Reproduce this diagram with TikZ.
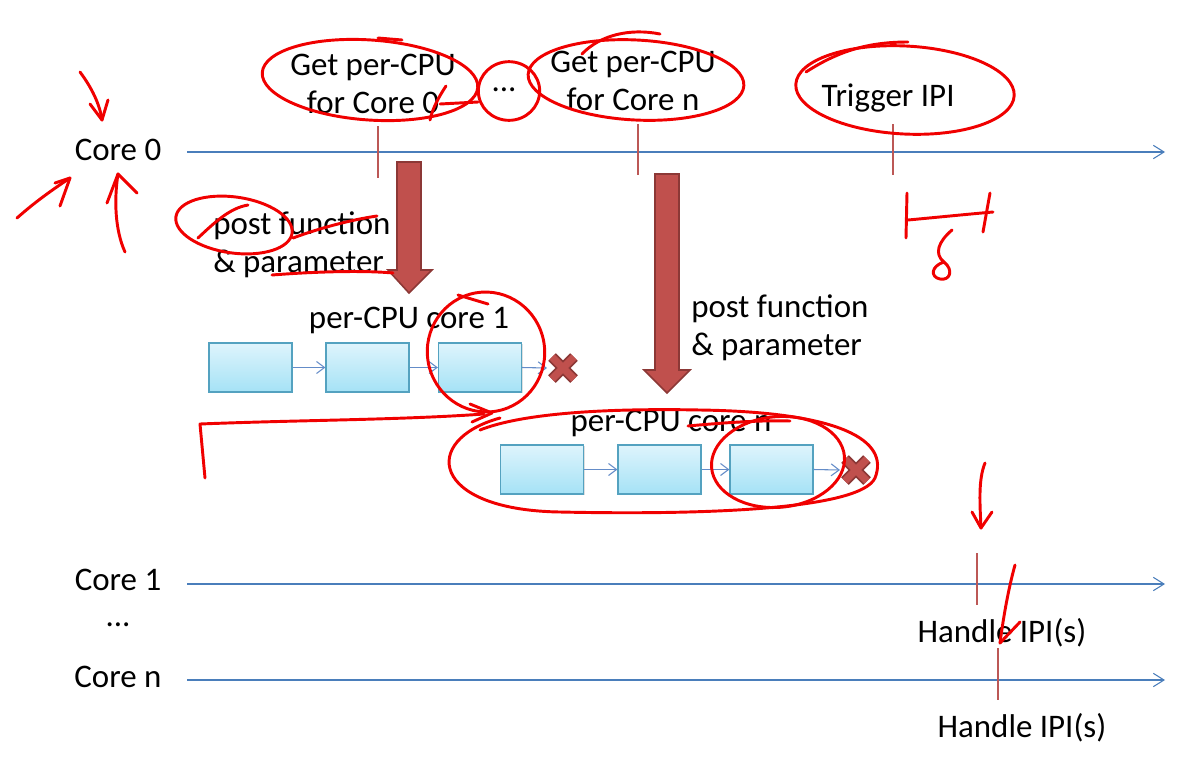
\documentclass[tikz,border=0pt]{standalone}
\usepackage{fontspec}
\setmainfont{Carlito}
\usetikzlibrary{arrows.meta,shadows}
\definecolor{axisblue}{RGB}{74,126,187}
\definecolor{tickred}{RGB}{188,88,86}
\definecolor{bigfill}{RGB}{192,80,77}
\definecolor{bigdraw}{RGB}{140,56,54}
\definecolor{boxtop}{RGB}{222,244,252}
\definecolor{boxbot}{RGB}{165,226,246}
\definecolor{boxdraw}{RGB}{84,162,192}
\definecolor{chainblue}{RGB}{100,140,200}
\definecolor{inkred}{RGB}{240,0,0}
\begin{document}
\begin{tikzpicture}[x=0.75pt,y=-0.75pt,
  lbl/.style={font=\fontsize{24.7}{28.5}\selectfont, inner sep=0pt, align=center},
  axisline/.style={draw=axisblue, line width=0.8pt, -{Straight Barb[length=8pt,width=10pt,line width=0.8pt]}},
  tickline/.style={draw=tickred, line width=2.2pt},
  qbox/.style={draw=boxdraw, line width=0.9pt, top color=boxtop, bottom color=boxbot,
     minimum width=62.25pt, minimum height=36.75pt, inner sep=0pt,
     drop shadow={opacity=0.25, shadow xshift=1pt, shadow yshift=-1pt}},
  chain/.style={draw=chainblue, line width=0.8pt, -{Straight Barb[length=6pt,width=9pt,line width=0.8pt]}},
  bigarrow/.style={fill=bigfill, draw=bigdraw, line width=1.2pt, line join=miter},
  xmarkout/.style={draw=bigdraw, line width=8pt},
  xmarkin/.style={draw=bigfill, line width=5.5pt},
  ink/.style={draw=inkred, line width=2.2pt, line cap=round, line join=round}]
\useasboundingbox[fill=white] (0,0) rectangle (1186,758);

% ---------- core labels ----------
\node[lbl] (c0) at (118,150) {Core 0};
\node[lbl] (c1) at (118,580) {Core 1};
\node[lbl] (cdots) at (118,625) {...};
\node[lbl] (cn) at (118,677) {Core n};

% ---------- axes ----------
\coordinate (a0s) at (187,152); \coordinate (a0e) at (1165,152);
\coordinate (a1s) at (187,584); \coordinate (a1e) at (1165,584);
\coordinate (ans) at (187,680); \coordinate (ane) at (1165,680);
\draw[axisline] (a0s) -- (a0e);
\draw[axisline] (a1s) -- (a1e);
\draw[axisline] (ans) -- (ane);

% ---------- ticks ----------
\coordinate (t1a) at (378,126); \coordinate (t1b) at (378,178);
\coordinate (t2a) at (638,124); \coordinate (t2b) at (638,175);
\coordinate (t3a) at (893,124); \coordinate (t3b) at (893,175);
\coordinate (t4a) at (977,553); \coordinate (t4b) at (977,605);
\coordinate (t5a) at (998,648); \coordinate (t5b) at (998,700);
\draw[tickline] (t1a) -- (t1b);
\draw[tickline] (t2a) -- (t2b);
\draw[tickline] (t3a) -- (t3b);
\draw[tickline] (t4a) -- (t4b);
\draw[tickline] (t5a) -- (t5b);

% ---------- top texts ----------
\node[lbl] (g0) at (373,84) {Get per-CPU\\for Core 0};
\node[lbl] (gd) at (504,90) {...};
\node[lbl] (gn) at (633,81) {Get per-CPU\\for Core n};
\node[lbl] (trig) at (888,98) {Trigger IPI};

% ---------- big arrows ----------
\draw[bigarrow] (397,162) -- (421,162) -- (421,270) -- (432,270) -- (409,293)
  -- (388,270) -- (397,270) -- cycle;
\draw[bigarrow] (655,174) -- (679,174) -- (679,370) -- (690,370) -- (667,393)
  -- (644,370) -- (655,370) -- cycle;

% ---------- post function labels ----------
\node[lbl, align=left, anchor=west] (pf1) at (213,245) {post function\\\& parameter};
\node[lbl, align=left, anchor=west] (pf2) at (691,328) {post function\\\& parameter};

% ---------- per-CPU core 1 ----------
\node[lbl] (pc1) at (409,320) {per-CPU core 1};
\node[qbox] (b11) at (250.5,367.5) {};
\node[qbox] (b12) at (367.5,367.5) {};
\node[qbox] (b13) at (480,367.5) {};
\draw[chain] (b11) -- (b12);
\draw[chain] (b12) -- (b13);
\draw[chain] (b13.east) -- (547,368);
\draw[xmarkout] (552,357) -- (574,379) (552,379) -- (574,357);
\draw[xmarkin] (552,357) -- (574,379) (552,379) -- (574,357);

% ---------- per-CPU core n ----------
\node[lbl] (pcn) at (671,423) {per-CPU core n};
\node[qbox] (bn1) at (542,469.5) {};
\node[qbox] (bn2) at (659.5,469.5) {};
\node[qbox] (bn3) at (771.5,469.5) {};
\draw[chain] (bn1) -- (bn2);
\draw[chain] (bn2) -- (bn3);
\draw[chain] (bn3.east) -- (840,470);
\draw[xmarkout] (845,459) -- (867,481) (845,481) -- (867,459);
\draw[xmarkin] (845,459) -- (867,481) (845,481) -- (867,459);

% ---------- handle IPI ----------
\node[lbl] (h1) at (1002,633) {Handle IPI(s)};
\node[lbl] (h2) at (1022,728) {Handle IPI(s)};

% ---------- red ink annotations ----------
% core 0 arrows
\draw[ink] (80,72) .. controls (92,88) and (100,105) .. (102,120);
\draw[ink] (90,104) -- (102,120) -- (108,100);
\draw[ink] (17,218) .. controls (35,202) and (52,190) .. (70,178);
\draw[ink] (55,183) -- (70,178) -- (60,206);
\draw[ink] (125,252) .. controls (115,230) and (114,200) .. (118,174);
\draw[ink] (107,203) -- (118,174) -- (137,193);
% top ellipses
\draw[ink, rotate around={-4:(370,80)}] (370,80) ellipse [x radius=81pt, y radius=30pt];
\draw[ink] (378,38) -- (402,40);
\draw[ink] (446,86) .. controls (438,98) and (432,110) .. (430,120);
\draw[ink] (440,104) -- (478,102);
\draw[ink] (509,91) ellipse [x radius=23pt, y radius=22pt];
\draw[ink, rotate around={-3:(636,80)}] (636,80) ellipse [x radius=81pt, y radius=30pt];
\draw[ink] (582,54) .. controls (600,35) and (630,28) .. (660,34);
\draw[ink, rotate around={-3:(905,90)}] (905,90) ellipse [x radius=82pt, y radius=33pt];
\draw[ink] (806,72) .. controls (840,50) and (870,42) .. (908,42);
% post function annotations
\draw[ink, rotate around={-8:(234,225)}] (234,225) ellipse [x radius=44pt, y radius=21pt];
\draw[ink] (198,238) .. controls (215,222) and (230,208) .. (248,205);
\draw[ink] (293,238) .. controls (320,228) and (350,220) .. (377,216);
\draw[ink] (272,275) .. controls (310,272) and (360,270) .. (393,273);
% core 1 third box circle
\draw[ink, rotate around={10:(486,352)}] (486,352) ellipse [x radius=44pt, y radius=45pt];
\draw[ink] (458,295) -- (488,304);
% bracket line with arrow
\draw[ink] (205,478) -- (200,424) .. controls (300,420) and (400,420) .. (484,414);
\draw[ink] (470,404) -- (492,413) -- (472,422);
% per-CPU core n big ellipse
\draw[ink] (500,418) .. controls (420,440) and (430,510) .. (560,512)
   .. controls (700,515) and (860,510) .. (875,478)
   .. controls (890,440) and (840,412) .. (700,410)
   .. controls (600,408) and (520,414) .. (480,430);
\draw[ink] (688,426) .. controls (720,423) and (760,420) .. (790,421);
\draw[ink, rotate around={5:(778,462)}] (778,462) ellipse [x radius=50pt, y radius=34pt];
% delta annotation
\draw[ink] (907,193) -- (906,238);
\draw[ink] (908,220) .. controls (940,217) and (970,214) .. (993,212);
\draw[ink] (990,193) -- (983,232);
\draw[ink] (952,230) .. controls (938,242) and (934,254) .. (944,262)
   .. controls (954,270) and (950,281) .. (940,279)
   .. controls (930,277) and (931,266) .. (944,262);
% core 1 / core n arrows
\draw[ink] (985,463) .. controls (978,480) and (980,505) .. (981,528);
\draw[ink] (972,512) -- (981,528) -- (992,512);
\draw[ink] (1015,565) .. controls (1008,590) and (1003,620) .. (1000,643);
\draw[ink] (1000,643) -- (1020,622);
\end{tikzpicture}
\end{document}
